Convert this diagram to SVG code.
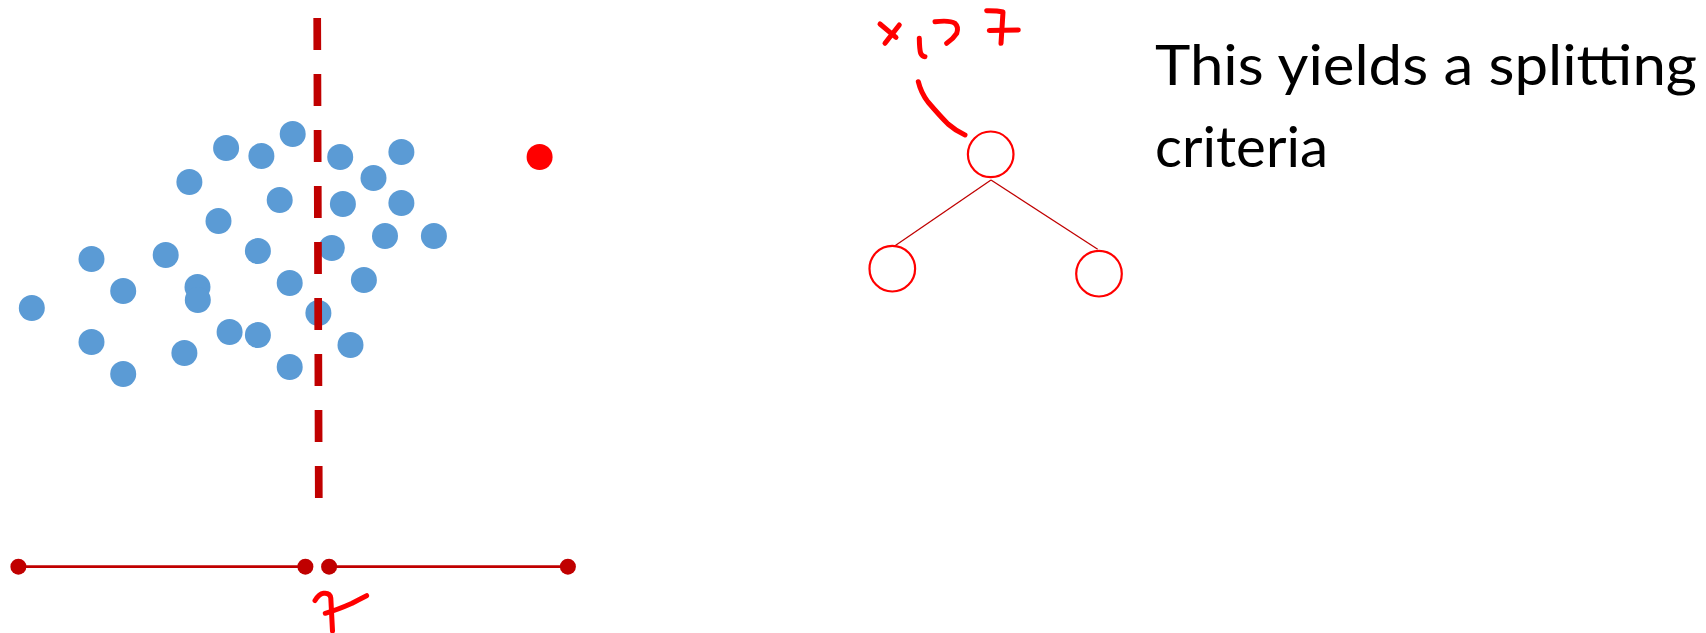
<svg xmlns="http://www.w3.org/2000/svg" width="1706" height="633" viewBox="0 0 1706 633">
<style>
.pt{fill:#5B9BD5}
.ink{fill:none;stroke:#FF0000;stroke-width:5;stroke-linecap:round;stroke-linejoin:round}
.node{fill:#FFFFFF;stroke:#FF0000;stroke-width:2.2}
.edge{stroke:#C00000;stroke-width:1.3}
.axis{stroke:#C00000;stroke-width:2.7}
.tick{fill:#C00000}
.txt{font-family:Lato,"Open Sans",sans-serif;font-size:57px;fill:#000000}
</style>
<rect width="1706" height="633" fill="#FFFFFF"/>
<g id="points">
<circle class="pt" cx="292.7" cy="134" r="13"/>
<circle class="pt" cx="226.1" cy="148" r="13"/>
<circle class="pt" cx="261.4" cy="156" r="13"/>
<circle class="pt" cx="340.2" cy="157" r="13"/>
<circle class="pt" cx="401.4" cy="152" r="13"/>
<circle class="pt" cx="189.4" cy="182" r="13"/>
<circle class="pt" cx="373.5" cy="178" r="13"/>
<circle class="pt" cx="279.7" cy="200" r="13"/>
<circle class="pt" cx="342.9" cy="204" r="13"/>
<circle class="pt" cx="401.4" cy="203" r="13"/>
<circle class="pt" cx="218.5" cy="221" r="13"/>
<circle class="pt" cx="385" cy="236" r="13"/>
<circle class="pt" cx="433.9" cy="236" r="13"/>
<circle class="pt" cx="331.8" cy="248" r="13"/>
<circle class="pt" cx="257.9" cy="251" r="13"/>
<circle class="pt" cx="165.7" cy="255" r="13"/>
<circle class="pt" cx="91.5" cy="259" r="13"/>
<circle class="pt" cx="123.2" cy="291" r="13"/>
<circle class="pt" cx="197.5" cy="287" r="13"/>
<circle class="pt" cx="197.8" cy="300" r="13"/>
<circle class="pt" cx="289.7" cy="283" r="13"/>
<circle class="pt" cx="363.9" cy="280" r="13"/>
<circle class="pt" cx="31.8" cy="308" r="13"/>
<circle class="pt" cx="318.4" cy="313" r="13"/>
<circle class="pt" cx="91.5" cy="342" r="13"/>
<circle class="pt" cx="229.6" cy="332" r="13"/>
<circle class="pt" cx="257.9" cy="335" r="13"/>
<circle class="pt" cx="184.4" cy="353" r="13"/>
<circle class="pt" cx="350.5" cy="345" r="13"/>
<circle class="pt" cx="123.2" cy="374" r="13"/>
<circle class="pt" cx="289.7" cy="367" r="13"/>
<circle cx="539.6" cy="157" r="13" fill="#FF0000"/>
</g>
<g id="split-line">
<line x1="317.2" y1="18" x2="318.8" y2="498" stroke="#C00000" stroke-width="7.7" stroke-dasharray="32 24"/>
</g>
<g id="axis">
<line class="axis" x1="18.4" y1="566.7" x2="305.4" y2="566.7"/>
<line class="axis" x1="329.1" y1="566.7" x2="567.9" y2="566.7"/>
<circle class="tick" cx="18.4" cy="566.7" r="8"/>
<circle class="tick" cx="305.4" cy="566.7" r="8"/>
<circle class="tick" cx="329.1" cy="566.7" r="8"/>
<circle class="tick" cx="567.9" cy="566.7" r="8"/>
</g>
<g id="ink">
<path class="ink" stroke-width="5.5" d="M315,600.5 Q319,594 323.5,593.3 Q330,592.5 330.8,598 Q331.5,612 332.5,631"/>
<path class="ink" stroke-width="5.5" d="M325.3,613.3 Q337,610 352.1,603.3 Q360,599 366.6,595.7"/>
<path class="ink" d="M880,24 L896,37.3"/>
<path class="ink" d="M899.3,25 L885,43.3"/>
<path class="ink" d="M919.3,38.3 Q919.5,50 920.7,53.3 Q922,56.5 925,56.7"/>
<path class="ink" d="M935,21.7 Q950,20 955,23.3 Q959,27 956.7,33.3 Q953,39 946.7,43.3"/>
<path class="ink" d="M986.7,10.7 Q997,10.5 1003,12 Q1002,28 1001,43.3"/>
<path class="ink" d="M989.3,30.5 L1018.3,30"/>
<path class="ink" d="M918.3,81.7 Q921,93 928,102 Q940,116 948,124 Q956,131 965,135"/>
</g>
<g id="connectors">
<line class="edge" x1="991" y1="180" x2="895" y2="245.7"/>
<line class="edge" x1="991" y1="180" x2="1097.7" y2="249.3"/>
</g>
<g id="root-node">
<circle class="node" cx="990.7" cy="154.3" r="22.8"/>
</g>
<g id="left-node">
<circle class="node" cx="892.3" cy="268.7" r="22.8"/>
</g>
<g id="right-node">
<circle class="node" cx="1099" cy="273.7" r="22.8"/>
</g>
<g id="caption">
<text class="txt" x="1155" y="85" textLength="542" lengthAdjust="spacingAndGlyphs">This yields a splitting</text>
<text class="txt" x="1155" y="166.5" textLength="173" lengthAdjust="spacingAndGlyphs">criteria</text>
</g>
</svg>
